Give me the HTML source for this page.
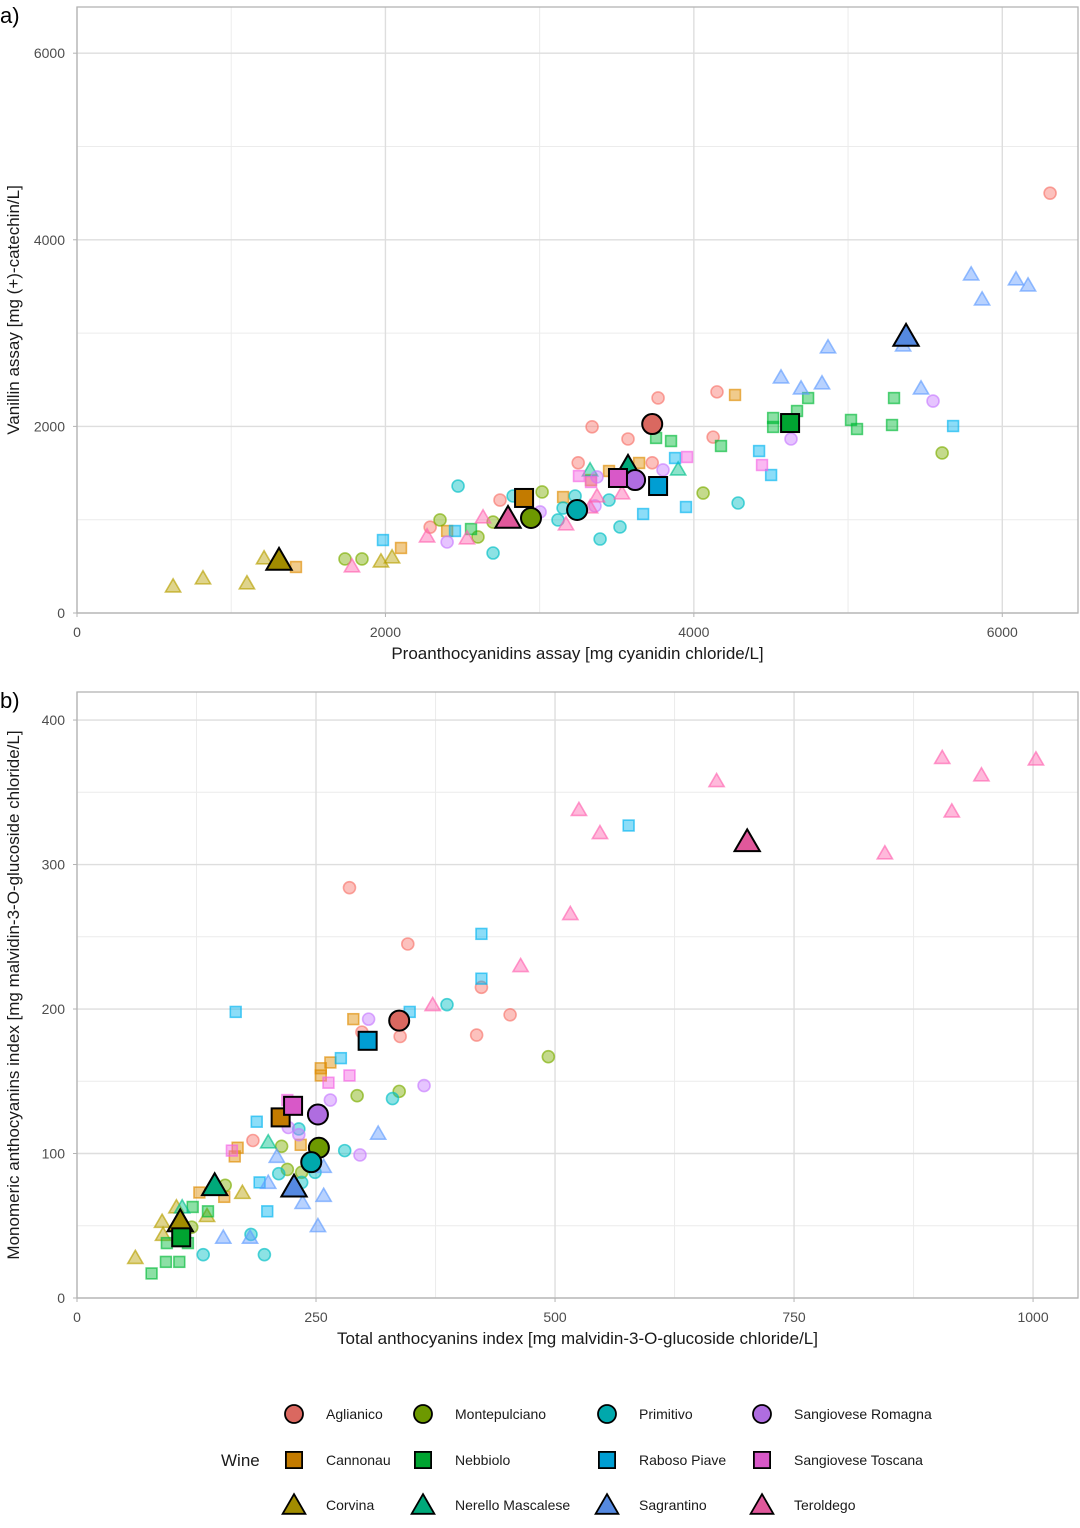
<!DOCTYPE html>
<html><head><meta charset="utf-8"><style>
body{margin:0;background:#fff;}
svg{display:block;font-family:"Liberation Sans",Arial,sans-serif;}
</style></head><body>
<svg id="chart" width="1080" height="1528" viewBox="0 0 1080 1528" xmlns="http://www.w3.org/2000/svg"></svg>
<script>
const wines = ["Aglianico","Cannonau","Corvina","Montepulciano","Nebbiolo","Nerello Mascalese","Primitivo","Raboso Piave","Sagrantino","Sangiovese Romagna","Sangiovese Toscana","Teroldego"];
const colors = ["#F8766D","#DE8C00","#B79F00","#7CAE00","#00BA38","#00C08B","#00BFC4","#00B4F0","#619CFF","#C77CFF","#F564E3","#FF64B0"];
const shapes = ["circle","square","triangle","circle","square","triangle","circle","square","triangle","circle","square","triangle"];

// Panel a: proanthocyanidins (x) vs vanillin (y)
const aX = {
 "Aglianico":[6310,4150,3768,3340,3573,4125,3730,3250,2743,2290],
 "Cannonau":[4267,3645,3450,3333,3152,2101,2400,1420],
 "Corvina":[623,817,1102,1213,1971,2043],
 "Montepulciano":[3016,2354,2698,2600,4060,1738,1848,5610],
 "Nebbiolo":[3755,3852,4176,2555,4514,4514,4669,4741,5019,5058,5298,5285],
 "Nerello Mascalese":[3327,3898],
 "Primitivo":[2471,2828,3230,3152,3450,3119,3521,3392,2698,4287],
 "Raboso Piave":[3878,3949,3671,2451,1984,5681,4423,4501],
 "Sagrantino":[5798,6089,6167,5869,4870,4565,4695,4831,5473,5357],
 "Sangiovese Romagna":[3800,3372,3359,3003,2400,5551,4630],
 "Sangiovese Toscana":[3956,3255,3333,4442],
 "Teroldego":[2633,3171,3534,3372,3327,2529,2270,1783]
};
const aY = {
 "Aglianico":[4500,2370,2305,1995,1865,1885,1610,1610,1210,920],
 "Cannonau":[2337,1608,1522,1425,1243,697,879,493],
 "Corvina":[289,375,322,590,557,600],
 "Montepulciano":[1297,997,975,815,1286,579,579,1715],
 "Nebbiolo":[1876,1843,1790,900,2090,1994,2165,2304,2069,1972,2304,2015],
 "Nerello Mascalese":[1533,1543],
 "Primitivo":[1361,1254,1254,1125,1211,997,922,793,643,1179],
 "Raboso Piave":[1661,1136,1061,879,782,2004,1736,1479],
 "Sagrantino":[3633,3580,3515,3365,2851,2529,2411,2465,2411,2872],
 "Sangiovese Romagna":[1533,1458,1147,1083,761,2272,1865],
 "Sangiovese Toscana":[1672,1468,1404,1586],
 "Teroldego":[1029,954,1286,1254,1136,804,825,504]
};
const aMeanX = [3730,2899,1310,2944,4624,3573,3243,3768,5376,3619,3508,2795];
const aMeanY = [2025,1233,568,1018,2036,1565,1104,1361,2969,1425,1447,1018];

// Panel b: total anthocyanins (x) vs monomeric anthocyanins (y)
const bX = {
 "Aglianico":[285,346,423,418,453,338,298,184],
 "Cannonau":[289,265,255,255,234,168,165,128,154],
 "Corvina":[61,173,89,90,136,104],
 "Montepulciano":[293,337,214,220,235,120,155,493],
 "Nebbiolo":[78,93,107,94,121,137,116],
 "Nerello Mascalese":[200,110],
 "Primitivo":[232,387,330,280,211,235,249,182,132,196],
 "Raboso Piave":[577,423,423,348,166,276,188,191,199],
 "Sagrantino":[315,258,258,236,252,153,181,209,200],
 "Sangiovese Romagna":[305,363,296,265,221,232],
 "Sangiovese Toscana":[285,263,220,162],
 "Teroldego":[905,946,1003,915,845,669,525,547,516,464,372]
};
const bY = {
 "Aglianico":[284,245,215,182,196,181,184,109],
 "Cannonau":[193,163,159,154,106,104,98,73,70],
 "Corvina":[28,73,53,44,57,63],
 "Montepulciano":[140,143,105,89,87,49,78,167],
 "Nebbiolo":[17,25,25,38,63,60,38],
 "Nerello Mascalese":[108,63],
 "Primitivo":[117,203,138,102,86,80,87,44,30,30],
 "Raboso Piave":[327,252,221,198,198,166,122,80,60],
 "Sagrantino":[114,91,71,66,50,42,42,98,80],
 "Sangiovese Romagna":[193,147,99,137,118,113],
 "Sangiovese Toscana":[154,149,137,102],
 "Teroldego":[374,362,373,337,308,358,338,322,266,230,203]
};
const bMeanX = [337,213,108,253,109,144,245,304,227,252,226,701];
const bMeanY = [192,125,53,104,42,78,94,178,77,127,133,316];

const aXTicks = [0,2000,4000,6000];
const aYTicks = [0,2000,4000,6000];
const bXTicks = [0,250,500,750,1000];
const bYTicks = [0,100,200,300,400];

const NS = "http://www.w3.org/2000/svg";
const svg = document.getElementById("chart");
function mk(tag, attrs, parent){
  const e = document.createElementNS(NS, tag);
  for (const k in attrs) e.setAttribute(k, attrs[k]);
  (parent||svg).appendChild(e);
  return e;
}
function darken(hex, f){
  const n = parseInt(hex.slice(1),16);
  const r = Math.round(((n>>16)&255)*f), g = Math.round(((n>>8)&255)*f), b = Math.round((n&255)*f);
  return "rgb("+r+","+g+","+b+")";
}
function marker(g, shape, cx, cy, r, fill, stroke, fo, so, sw){
  let e;
  if (shape==="circle") e = mk("circle",{cx:cx,cy:cy,r:r},g);
  else if (shape==="square") e = mk("rect",{x:cx-r*0.9,y:cy-r*0.9,width:r*1.8,height:r*1.8},g);
  else { const h=r*1.15; e = mk("polygon",{points:`${cx},${cy-h*1.05} ${cx+h*1.1},${cy+h*0.85} ${cx-h*1.1},${cy+h*0.85}`},g); }
  e.setAttribute("fill",fill); e.setAttribute("fill-opacity",fo);
  e.setAttribute("stroke",stroke); e.setAttribute("stroke-opacity",so); e.setAttribute("stroke-width",sw);
  return e;
}

function panel(cfg){
  const {L,T,R,B,xMax,yMax,xT,yT,xMinor,yMinor,X,Y,MX,MY,xTitle,yTitle,label,key} = cfg;
  const sx = v => L + v/xMax*(R-L);
  const sy = v => B - v/yMax*(B-T);
  const g = mk("g",{});
  
  
  const grid = mk("g",{},g);
  
  
  for (let v=xMinor; v<xMax; v+=xMinor*2) mk("line",{x1:sx(v),x2:sx(v),y1:T,y2:B,stroke:"#ececec","stroke-width":1},grid);
  for (let v=yMinor; v<yMax; v+=yMinor*2) mk("line",{x1:L,x2:R,y1:sy(v),y2:sy(v),stroke:"#ececec","stroke-width":1},grid);
  xT.forEach(v=>mk("line",{x1:sx(v),x2:sx(v),y1:T,y2:B,stroke:"#dedede","stroke-width":1.4},grid));
  yT.forEach(v=>mk("line",{x1:L,x2:R,y1:sy(v),y2:sy(v),stroke:"#dedede","stroke-width":1.4},grid));
  const border = mk("rect",{x:L,y:T,width:R-L,height:B-T,fill:"none",stroke:"#b3b3b3","stroke-width":1.3},g);
  
  
  xT.forEach(v=>{
    const t = mk("text",{x:sx(v),y:B+24,"text-anchor":"middle","font-size":14,fill:"#4d4d4d"},g);
    t.textContent = v;
    
    
    mk("line",{x1:sx(v),x2:sx(v),y1:B,y2:B+4,stroke:"#b3b3b3"},g);
  });
  yT.forEach(v=>{
    const t = mk("text",{x:L-12,y:sy(v)+5,"text-anchor":"end","font-size":14,fill:"#4d4d4d"},g);
    t.textContent = v;
    
    
    mk("line",{x1:L-4,x2:L,y1:sy(v),y2:sy(v),stroke:"#b3b3b3"},g);
  });
  const xt = mk("text",{x:(L+R)/2,y:B+46,"text-anchor":"middle","font-size":17,fill:"#1a1a1a"},g);
  xt.textContent = xTitle;
  
  
  const yt = mk("text",{x:0,y:0,"text-anchor":"middle","font-size":17,fill:"#1a1a1a",transform:`translate(19,${(T+B)/2}) rotate(-90)`},g);
  yt.textContent = yTitle;
  
  
  const pl = mk("text",{x:0,y:T+16,"font-size":22,fill:"#000"},g);
  pl.textContent = label;
  
  
  const pts = mk("g",{},g);
  
  
  wines.forEach((w,i)=>{
    X[w].forEach((xv,j)=>{
      const m = marker(pts, shapes[i], sx(xv), sy(Y[w][j]), 6, colors[i], colors[i], 0.45, 0.65, 1.6);
      
      
    });
  });
  const means = mk("g",{},g);
  
  
  wines.forEach((w,i)=>{
    const m = marker(means, shapes[i], sx(MX[i]), sy(MY[i]), 10, darken(colors[i],0.88), "#000", 1, 1, 2);
    
    
  });
}

panel({key:"panel-a",L:77,T:7,R:1078,B:613,xMax:6491,yMax:6495,xT:aXTicks,yT:aYTicks,xMinor:1000,yMinor:1000,
  X:aX,Y:aY,MX:aMeanX,MY:aMeanY,label:"a)",
  xTitle:"Proanthocyanidins assay [mg cyanidin chloride/L]",yTitle:"Vanillin assay [mg (+)-catechin/L]"});
panel({key:"panel-b",L:77,T:692,R:1078,B:1298,xMax:1047,yMax:419.4,xT:bXTicks,yT:bYTicks,xMinor:125,yMinor:50,
  X:bX,Y:bY,MX:bMeanX,MY:bMeanY,label:"b)",
  xTitle:"Total anthocyanins index [mg malvidin-3-O-glucoside chloride/L]",yTitle:"Monomeric anthocyanins index [mg malvidin-3-O-glucoside chloride/L]"});

// Legend
const lg = mk("g",{});


const lt = mk("text",{x:221,y:1466,"font-size":17,fill:"#1a1a1a"},lg);
lt.textContent = "Wine";


const colX = [294,423,607,762];
const rowY = [1414,1460,1505];
wines.forEach((w,i)=>{
  const c = Math.floor(i/3), r = i%3;
  const eg = mk("g",{},lg);
  
  
  marker(eg, shapes[i], colX[c], rowY[r], 9, darken(colors[i],0.88), "#000", 1, 1, 1.8);
  const t = mk("text",{x:colX[c]+32,y:rowY[r]+5,"font-size":14,fill:"#1a1a1a"},eg);
  t.textContent = w;
});
</script>
</body></html>
